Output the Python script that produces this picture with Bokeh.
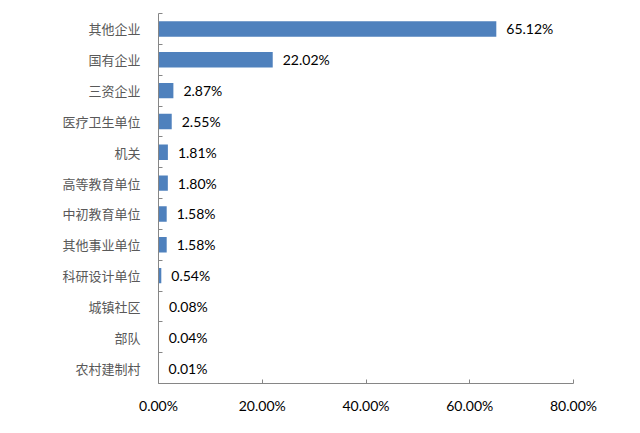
from bokeh.plotting import figure
from bokeh.models import Range1d, FixedTicker, LinearAxis, ColumnDataSource
from bokeh.core.properties import value
from bokeh.embed import file_html
from bokeh.resources import INLINE

categories = ["其他企业", "国有企业", "三资企业", "医疗卫生单位", "机关", "高等教育单位",
              "中初教育单位", "其他事业单位", "科研设计单位", "城镇社区", "部队", "农村建制村"]
values = [65.12, 22.02, 2.87, 2.55, 1.81, 1.80, 1.58, 1.58, 0.54, 0.08, 0.04, 0.01]
x_ticks = [0, 20, 40, 60, 80]
x_tick_labels = ["0.00%", "20.00%", "40.00%", "60.00%", "80.00%"]

n = len(categories)
centers = [i + 0.5 for i in range(n)]
src = ColumnDataSource(dict(
    y=centers, v=values, lab=["%.2f%%" % v for v in values]))

p = figure(width=624, height=417, output_backend="svg", toolbar_location=None,
           x_range=Range1d(0, 80), y_range=Range1d(n, 0),
           x_axis_location=None, y_axis_location=None,
           min_border_left=158, min_border_right=51, min_border_top=13, min_border_bottom=34)
p.outline_line_color = None
p.xgrid.visible = False
p.ygrid.visible = False
p.background_fill_color = "white"

p.hbar(y="y", right="v", left=0, height=0.5, source=src,
       fill_color="#4F81BD", line_color=None)
p.text(x="v", y="y", text="lab", source=src, x_offset=10,
       text_baseline="middle", text_align="left", text_color="#000000",
       text_font=value("Lato"), text_font_size="14px")

# x axis
xa = LinearAxis(ticker=FixedTicker(ticks=x_ticks),
                major_label_overrides={t: l for t, l in zip(x_ticks, x_tick_labels)})
xa.axis_line_color = "#868686"
xa.major_tick_line_color = "#868686"
xa.major_tick_in = 4
xa.major_tick_out = 0
xa.minor_tick_line_color = None
xa.major_label_standoff = 13
xa.major_label_text_font = "Lato"
xa.major_label_text_font_size = "14px"
xa.major_label_text_color = "#000000"
p.add_layout(xa, "below")

# y axis
ya = LinearAxis(ticker=FixedTicker(ticks=centers, minor_ticks=list(range(n + 1))),
                major_label_overrides={c: cat for c, cat in zip(centers, categories)})
ya.axis_line_color = "#868686"
ya.major_tick_line_color = None
ya.minor_tick_line_color = "#868686"
ya.minor_tick_in = 4
ya.minor_tick_out = 0
ya.major_label_standoff = 12
ya.major_label_text_font = "Noto Sans CJK SC"
ya.major_label_text_font_size = "13px"
ya.major_label_text_color = "#595959"
p.add_layout(ya, "left")

open("out.html", "w").write(file_html(p, INLINE))
